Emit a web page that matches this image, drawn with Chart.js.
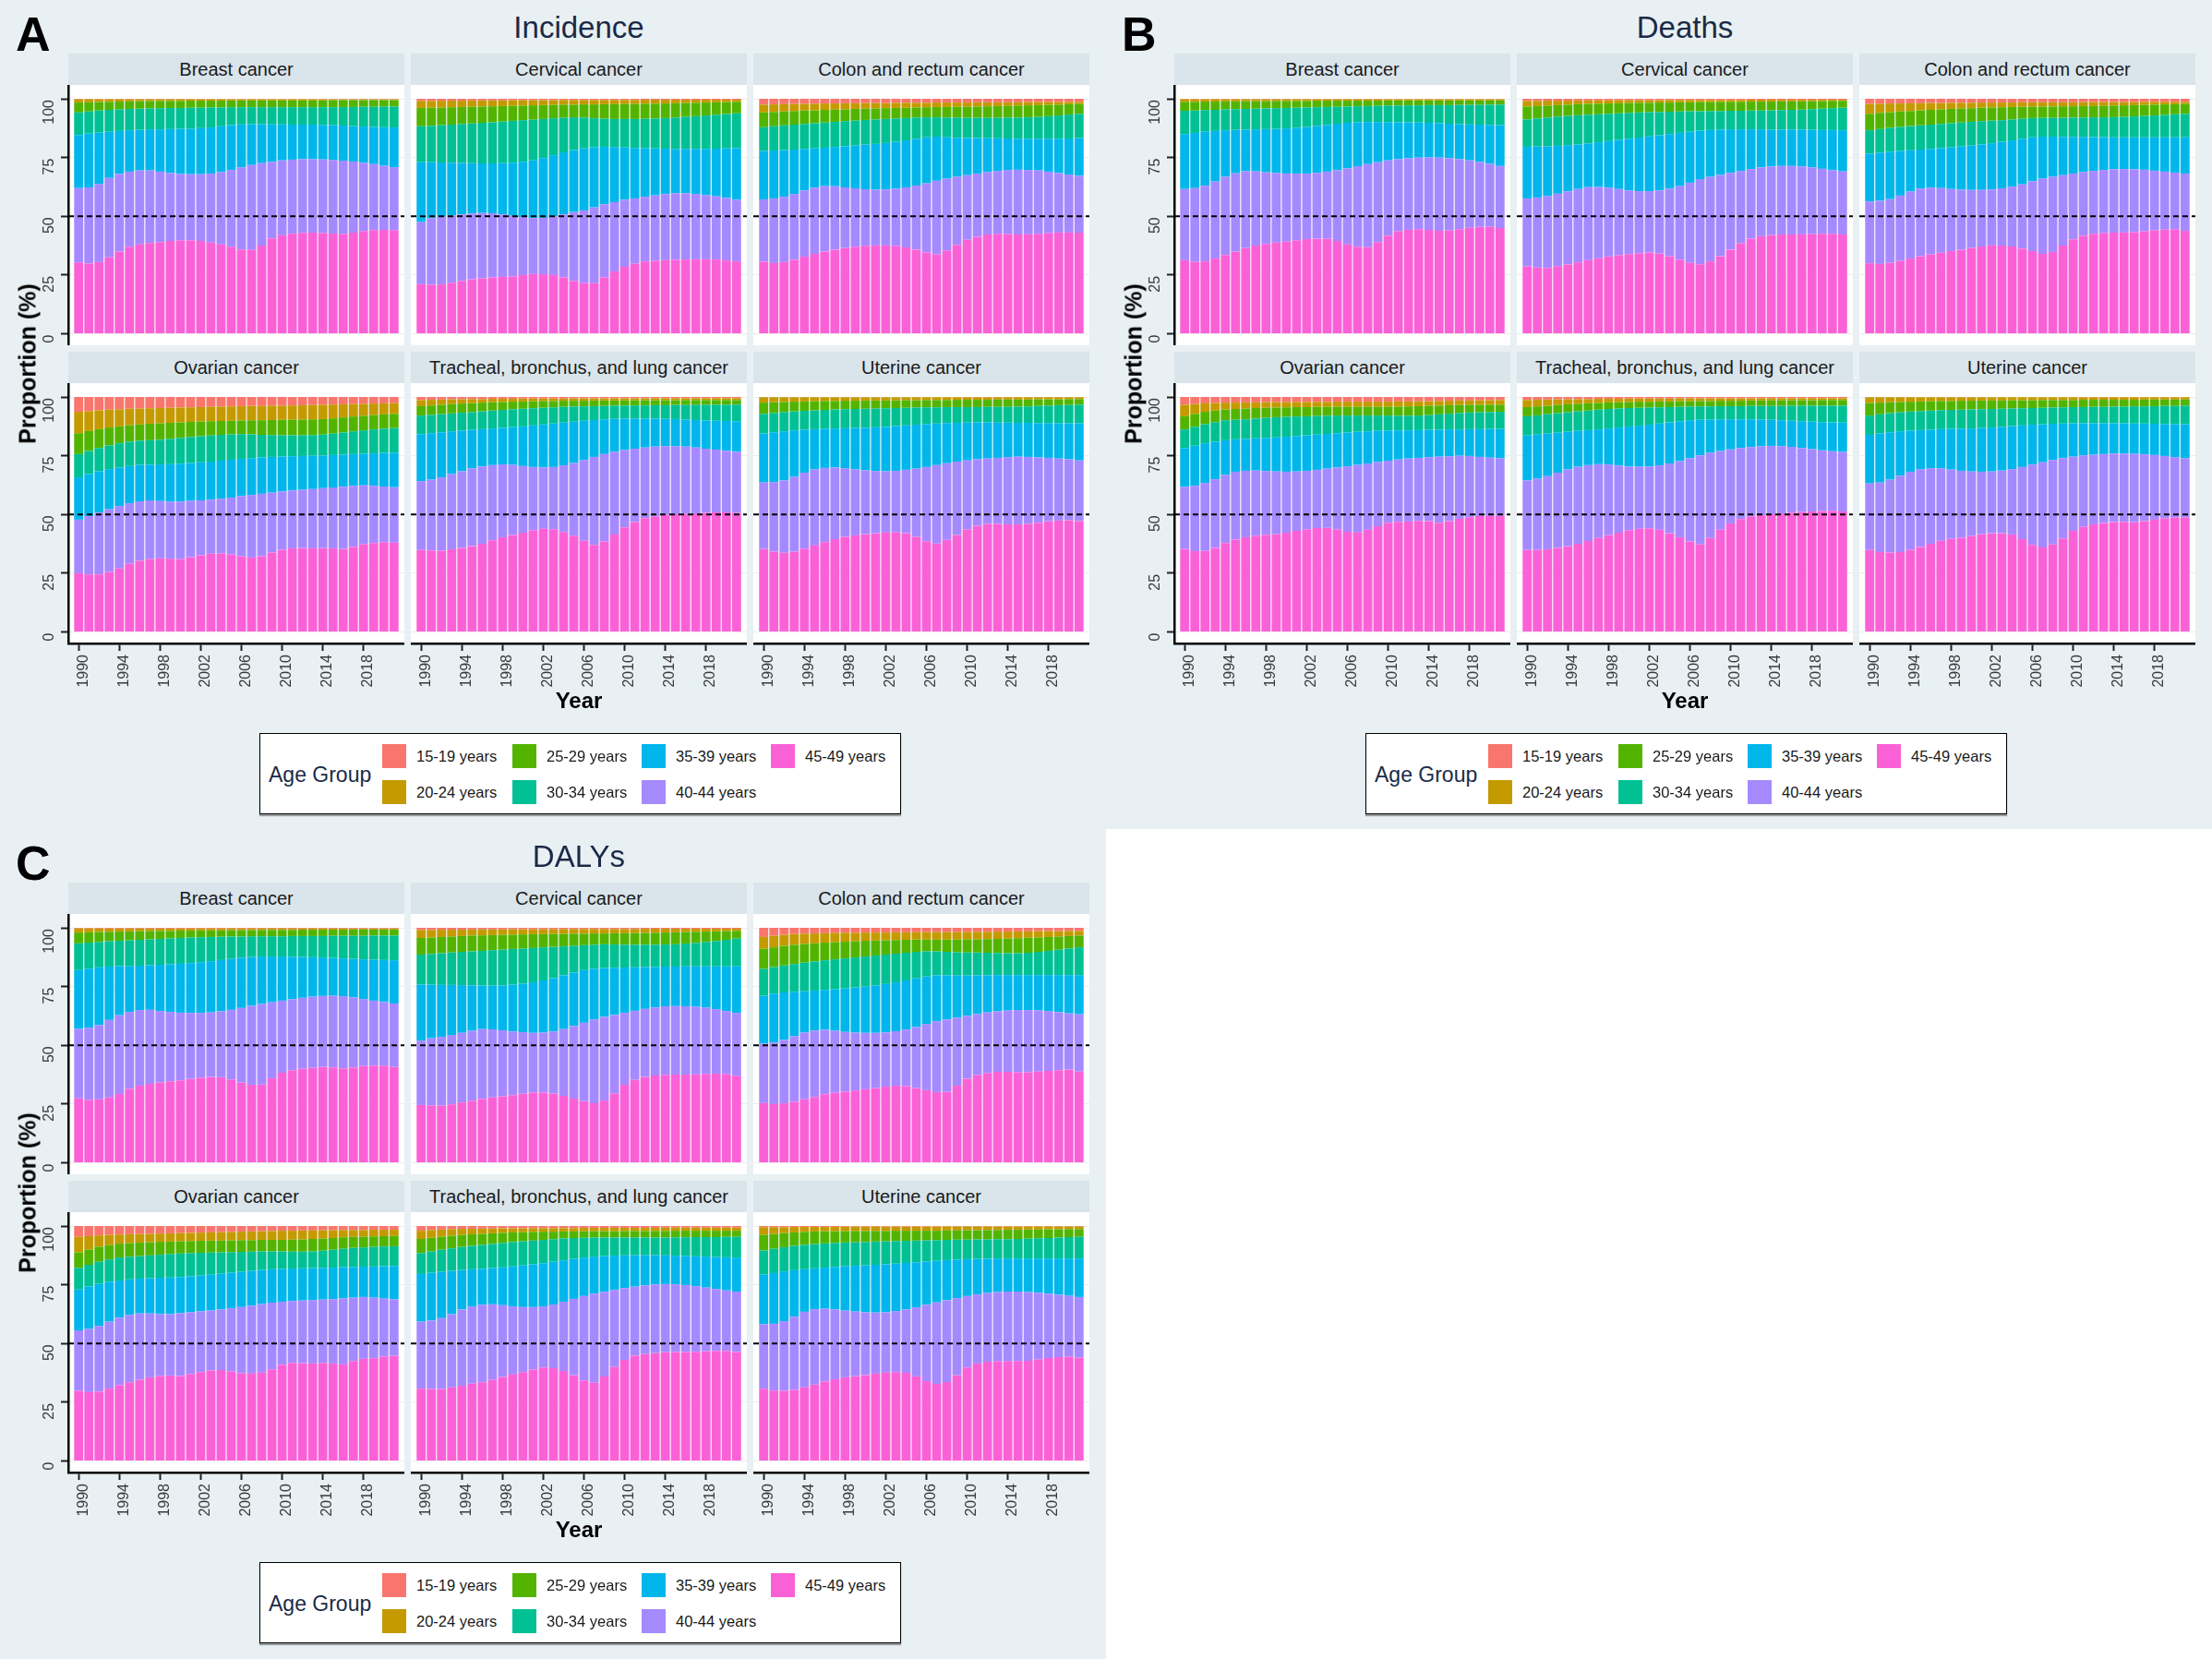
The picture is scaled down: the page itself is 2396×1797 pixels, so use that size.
<!DOCTYPE html>
<html>
<head>
<meta charset="utf-8">
<script src="https://cdn.jsdelivr.net/npm/chart.js@4.4.1/dist/chart.umd.min.js"></script>
<style>
  html, body { margin: 0; padding: 0; background: #e8f0f3; }
  #root { position: relative; width: 2396px; height: 1797px; overflow: hidden; font-family: "Liberation Sans", Arial, sans-serif; }
  .blank { position: absolute; left: 1198px; top: 898px; width: 1198px; height: 899px; background: #fff; }
  .strip { position: absolute; background: #d9e4eb; color: #1a1a1a; font-size: 20px; display: flex; align-items: center; justify-content: center; white-space: nowrap; }
  .title { position: absolute; font-size: 33px; color: #1b2a47; transform: translate(-50%, -50%); white-space: nowrap; }
  .letter { position: absolute; font-size: 52px; line-height: 52px; font-weight: bold; color: #000; }
  .ylab { position: absolute; font-size: 25px; font-weight: bold; color: #000; transform: translate(-50%, -50%) rotate(-90deg); white-space: nowrap; }
  .xlab { position: absolute; font-size: 24px; font-weight: bold; color: #000; transform: translate(-50%, -50%); }
  .legend { position: absolute; background: #fff; border: 1px solid #000; box-shadow: 0 2px 1px rgba(0,0,0,0.35); }
  .legtitle { position: absolute; font-size: 23px; color: #1b2a47; transform: translateY(-50%); white-space: nowrap; }
  .sw { position: absolute; width: 26px; height: 26px; }
  .lab { position: absolute; font-size: 16.5px; color: #1a1a1a; transform: translateY(-50%); white-space: nowrap; }
  canvas { position: absolute; }
</style>
</head>
<body>
<div id="root"><div class="blank"></div></div>
<script>
// categories
const years = [1990,1991,1992,1993,1994,1995,1996,1997,1998,1999,2000,2001,2002,2003,2004,2005,
               2006,2007,2008,2009,2010,2011,2012,2013,2014,2015,2016,2017,2018,2019,2020,2021];
const xTickYears = [1990,1994,1998,2002,2006,2010,2014,2018];
const yTickValues = [0,25,50,75,100];
const refLevel = 50;
const ageGroups = ['15-19 years','20-24 years','25-29 years','30-34 years','35-39 years','40-44 years','45-49 years'];
const ageColors = ['#F8766D','#C49A00','#53B400','#00C094','#00B6EB','#A58AFF','#FB61D7'];
const cancers = ['Breast cancer','Cervical cancer','Colon and rectum cancer','Ovarian cancer','Tracheal, bronchus, and lung cancer','Uterine cancer'];

// each facet: cumulative upper edge (%) of 45-49, 40-44, 35-39, 30-34, 25-29, 20-24 (rest up to 100 is 15-19)
const incidenceBreast = [
  [30.4,29.9,30.5,32.5,35.0,37.0,38.0,38.6, 39.0,39.5,39.8,39.8,39.5,38.8,38.0,37.0, 35.9,35.7,37.5,40.6,41.9,42.5,42.9,43.0, 42.8,42.6,42.4,43.0,43.7,44.1,44.2,44.1],
  [62.0,62.3,63.8,66.3,68.0,69.0,69.5,69.5, 69.0,68.4,68.0,67.9,67.9,68.2,68.8,69.7, 70.8,71.8,72.6,73.2,73.8,74.1,74.3,74.3, 74.2,74.0,73.7,73.3,72.8,72.2,71.5,70.9],
  [84.6,85.2,85.6,86.0,86.3,86.6,86.8,87.0, 87.0,87.1,87.2,87.3,87.5,87.8,88.3,88.8, 89.1,89.2,89.2,89.1,89.1,89.0,89.0,89.0, 88.9,88.8,88.6,88.4,88.2,88.0,87.9,87.8],
  [94.2,94.6,95.0,95.3,95.5,95.7,95.8,95.9, 96.0,96.1,96.1,96.2,96.2,96.3,96.3,96.4, 96.4,96.4,96.4,96.4,96.4,96.4,96.4,96.4, 96.4,96.4,96.5,96.5,96.6,96.6,96.7,96.7],
  [98.4,98.5,98.6,98.7,98.8,98.9,99.0,99.0, 99.1,99.1,99.1,99.2,99.2,99.2,99.2,99.3, 99.3,99.3,99.3,99.3,99.3,99.3,99.3,99.3, 99.3,99.4,99.4,99.4,99.4,99.4,99.4,99.4],
  [99.8,99.8,99.8,99.8,99.8,99.8,99.8,99.8, 99.8,99.8,99.8,99.8,99.8,99.8,99.8,99.8, 99.8,99.8,99.8,99.8,99.8,99.8,99.8,99.8, 99.8,99.8,99.8,99.8,99.8,99.8,99.8,99.8]
];
const incidenceCervical = [
  [21.1,20.9,21.0,21.7,22.5,23.2,23.6,24.0, 24.2,24.4,25.0,25.4,25.3,25.0,24.0,22.5, 21.6,21.5,24.0,26.5,28.5,29.8,30.8,31.1, 31.3,31.5,31.6,31.7,31.7,31.6,31.2,30.8],
  [47.5,49.2,49.8,50.3,50.8,51.2,51.4,51.3, 50.8,50.2,49.7,49.2,49.3,50.0,50.8,51.8, 52.5,53.8,55.1,56.0,57.0,57.6,58.3,58.9, 59.4,59.8,59.8,59.5,59.0,58.5,57.8,57.0],
  [73.0,73.0,72.9,72.8,72.7,72.6,72.5,72.5, 72.6,72.8,73.2,73.8,74.8,76.0,77.2,78.2, 78.9,79.4,79.6,79.5,79.3,79.1,79.0,78.9, 78.8,78.7,78.7,78.7,78.7,78.8,78.9,79.0],
  [88.3,88.5,88.8,89.0,89.3,89.5,89.8,90.0, 90.3,90.6,90.9,91.1,91.4,91.7,91.9,92.1, 92.0,91.7,91.5,91.4,91.4,91.4,91.5,91.6, 91.8,92.0,92.3,92.6,92.9,93.2,93.5,93.8],
  [96.1,96.2,96.3,96.4,96.5,96.6,96.7,96.8, 96.9,97.0,97.1,97.2,97.3,97.4,97.5,97.5, 97.6,97.6,97.7,97.7,97.8,97.8,97.9,97.9, 98.0,98.1,98.2,98.3,98.4,98.5,98.6,98.7],
  [99.1,99.1,99.2,99.2,99.2,99.3,99.3,99.3, 99.3,99.4,99.4,99.4,99.4,99.4,99.5,99.5, 99.5,99.5,99.5,99.5,99.5,99.5,99.6,99.6, 99.6,99.6,99.6,99.6,99.6,99.6,99.6,99.6]
];
const incidenceColon = [
  [30.7,30.1,30.5,31.5,32.8,34.0,35.0,35.8, 36.5,37.0,37.4,37.6,37.6,37.3,36.7,35.8, 34.6,33.8,35.5,37.8,40.0,41.3,42.2,42.5, 42.4,42.2,42.3,42.5,42.8,43.1,43.1,43.0],
  [57.2,57.6,58.3,59.5,61.0,62.2,62.8,62.8, 62.3,61.9,61.5,61.3,61.4,61.7,62.3,63.1, 64.0,65.1,66.0,66.8,67.5,68.2,68.8,69.3, 69.7,69.8,69.7,69.5,69.0,68.4,67.8,67.2],
  [77.8,78.0,78.2,78.4,78.7,78.9,79.2,79.5, 79.8,80.1,80.5,80.8,81.2,81.7,82.3,83.0, 83.6,83.9,83.6,83.4,83.3,83.3,83.2,83.2, 83.1,83.0,83.0,83.0,83.0,83.0,83.1,83.3],
  [87.9,88.3,88.7,89.0,89.3,89.6,89.9,90.2, 90.5,90.7,91.0,91.2,91.4,91.6,91.8,92.0, 92.1,92.1,92.0,92.0,91.9,91.9,91.9,91.9, 92.0,92.0,92.1,92.3,92.6,92.9,93.3,93.6],
  [94.2,94.4,94.6,94.8,95.0,95.1,95.3,95.4, 95.5,95.7,95.8,95.9,96.0,96.1,96.2,96.3, 96.4,96.5,96.5,96.6,96.6,96.7,96.8,96.9, 97.0,97.1,97.2,97.3,97.4,97.5,97.7,97.8],
  [97.5,97.6,97.7,97.8,97.8,97.9,98.0,98.0, 98.1,98.1,98.2,98.2,98.2,98.3,98.3,98.3, 98.3,98.4,98.4,98.4,98.4,98.5,98.5,98.5, 98.5,98.5,98.6,98.6,98.6,98.6,98.7,98.7]
];
const incidenceOvarian = [
  [25.0,24.5,24.5,25.5,27.0,29.0,30.3,31.0, 31.3,31.2,31.0,31.8,32.6,33.3,33.4,33.0, 32.2,31.7,32.2,33.8,35.0,35.6,35.7,35.6, 35.7,35.6,35.3,36.3,37.3,37.8,38.2,38.0],
  [47.8,49.3,50.8,52.2,53.6,54.8,55.6,56.0, 55.7,55.4,55.5,55.8,56.0,56.3,56.7,57.2, 57.8,58.3,58.8,59.3,59.8,60.2,60.5,60.8, 61.2,61.5,61.8,62.2,62.4,62.2,61.9,61.6],
  [65.8,67.2,68.4,69.3,70.0,70.6,71.1,71.2, 71.3,71.4,71.6,71.9,72.2,72.5,72.9,73.3, 73.7,74.0,74.3,74.5,74.7,74.8,74.9,75.0, 75.1,75.3,75.5,75.7,75.9,76.0,76.2,76.3],
  [75.7,77.0,78.3,79.4,80.3,81.0,81.4,81.6, 81.8,82.2,82.6,83.0,83.3,83.6,83.9,84.1, 84.2,84.1,83.9,83.8,83.7,83.7,83.7,83.8, 84.0,84.4,84.9,85.4,85.8,86.2,86.5,86.8],
  [84.6,85.5,86.3,87.0,87.5,88.0,88.3,88.6, 88.8,89.0,89.2,89.4,89.6,89.7,89.8,89.9, 90.0,90.1,90.1,90.2,90.3,90.3,90.4,90.5, 90.6,90.9,91.3,91.7,92.0,92.3,92.6,92.8],
  [93.7,94.0,94.3,94.6,94.8,95.0,95.1,95.2, 95.3,95.4,95.5,95.6,95.7,95.8,95.9,96.0, 96.1,96.2,96.2,96.3,96.3,96.4,96.5,96.6, 96.7,96.8,96.9,97.0,97.1,97.2,97.3,97.4]
];
const incidenceLung = [
  [34.9,34.7,34.6,35.2,35.8,36.6,37.5,39.0, 40.3,41.3,42.2,43.2,43.9,43.7,42.5,41.0, 38.8,37.0,38.5,41.5,44.5,46.8,48.4,49.2, 49.9,50.1,50.3,50.5,50.7,50.9,50.9,50.7],
  [64.2,64.8,65.8,67.2,68.4,69.6,70.4,71.0, 71.3,71.1,70.6,70.2,70.0,70.2,70.9,71.9, 73.2,74.5,75.7,76.6,77.4,78.0,78.5,78.9, 79.1,79.1,78.9,78.5,78.0,77.6,77.1,76.7],
  [84.2,84.6,85.0,85.4,85.7,86.0,86.3,86.6, 86.9,87.2,87.5,87.9,88.3,88.7,89.1,89.5, 89.9,90.2,90.5,90.7,90.8,90.8,90.8,90.8, 90.7,90.6,90.4,90.2,90.0,89.9,89.8,89.7],
  [92.1,92.4,92.7,93.0,93.3,93.6,93.9,94.2, 94.5,94.8,95.0,95.2,95.4,95.6,95.8,95.9, 96.0,96.1,96.2,96.3,96.3,96.4,96.4,96.5, 96.5,96.6,96.6,96.6,96.7,96.7,96.7,96.7],
  [96.1,96.4,96.7,97.0,97.2,97.4,97.6,97.8, 97.9,98.0,98.1,98.2,98.3,98.3,98.4,98.4, 98.4,98.5,98.5,98.5,98.5,98.6,98.6,98.6, 98.6,98.6,98.7,98.7,98.7,98.7,98.7,98.7],
  [98.7,98.8,98.9,99.0,99.0,99.1,99.1,99.2, 99.2,99.2,99.3,99.3,99.3,99.3,99.3,99.4, 99.4,99.4,99.4,99.4,99.4,99.4,99.4,99.5, 99.5,99.5,99.5,99.5,99.5,99.5,99.5,99.5]
];
const incidenceUterine = [
  [35.3,34.2,33.7,34.2,35.5,36.8,38.2,39.5, 40.5,41.1,41.6,42.0,42.3,42.4,42.0,40.5, 38.6,37.6,39.2,41.3,43.6,45.2,46.0,46.0, 45.8,45.8,46.0,46.5,47.1,47.4,47.6,47.2],
  [63.6,63.8,64.5,66.0,67.8,69.2,69.8,70.0, 69.7,69.2,68.8,68.5,68.4,68.6,69.0,69.5, 70.2,71.0,71.8,72.5,73.0,73.5,73.8,74.1, 74.4,74.6,74.5,74.3,74.1,73.8,73.5,73.0],
  [84.5,85.0,85.4,85.8,86.1,86.3,86.5,86.6, 86.7,86.8,86.9,87.1,87.3,87.6,87.9,88.2, 88.5,88.7,88.9,89.0,89.1,89.2,89.2,89.1, 89.1,89.0,89.0,88.9,88.9,88.8,88.8,88.8],
  [92.8,93.2,93.6,93.9,94.1,94.3,94.5,94.7, 94.8,94.9,95.0,95.1,95.2,95.3,95.4,95.5, 95.6,95.6,95.7,95.7,95.7,95.7,95.8,95.8, 95.8,95.9,96.0,96.2,96.3,96.5,96.6,96.7],
  [97.6,97.8,97.9,98.0,98.1,98.2,98.3,98.3, 98.4,98.4,98.5,98.5,98.5,98.6,98.6,98.6, 98.7,98.7,98.7,98.8,98.8,98.8,98.8,98.9, 98.9,98.9,98.9,99.0,99.0,99.0,99.1,99.1],
  [99.9,99.9,99.9,99.9,99.9,99.9,99.9,99.9, 99.9,99.9,99.9,99.9,99.9,99.9,99.9,99.9, 99.9,99.9,99.9,99.9,99.9,99.9,99.9,99.9, 99.9,99.9,99.9,99.9,99.9,99.9,99.9,99.9]
];

const deathsBreast = [
  [31.3,30.6,30.8,32.0,33.5,35.0,36.5,37.5, 38.2,38.8,39.2,39.8,40.3,40.5,40.4,39.5, 38.0,37.0,36.8,39.0,41.8,43.6,44.2,44.5, 44.2,43.8,44.0,44.5,45.1,45.5,45.5,45.0],
  [61.6,62.0,63.0,64.8,66.8,68.3,69.2,69.1, 68.7,68.4,68.2,68.2,68.2,68.5,69.0,69.6, 70.4,71.3,72.2,73.0,73.8,74.3,74.7,75.0, 75.1,75.0,74.7,74.3,73.8,73.1,72.3,71.4],
  [85.0,85.5,86.0,86.3,86.6,86.8,86.9,87.0, 87.1,87.2,87.4,87.7,88.0,88.4,88.9,89.4, 89.8,90.0,90.1,90.1,90.1,90.0,90.0,89.9, 89.8,89.6,89.4,89.2,89.1,89.0,88.9,88.8],
  [94.9,95.0,95.2,95.3,95.5,95.6,95.7,95.8, 95.9,96.0,96.1,96.2,96.3,96.4,96.5,96.6, 96.7,96.8,96.9,97.0,97.1,97.1,97.2,97.2, 97.3,97.3,97.3,97.4,97.4,97.4,97.5,97.5],
  [98.7,98.7,98.8,98.8,98.9,98.9,99.0,99.0, 99.0,99.1,99.1,99.1,99.1,99.2,99.2,99.2, 99.2,99.2,99.2,99.2,99.3,99.3,99.3,99.3, 99.3,99.3,99.3,99.3,99.3,99.3,99.3,99.3],
  [99.8,99.8,99.8,99.8,99.8,99.8,99.8,99.8, 99.8,99.8,99.8,99.8,99.8,99.8,99.8,99.8, 99.8,99.8,99.8,99.8,99.8,99.8,99.8,99.8, 99.8,99.8,99.8,99.8,99.8,99.8,99.8,99.8]
];
const deathsCervical = [
  [28.7,28.2,28.0,28.8,29.5,30.4,31.3,32.1, 32.9,33.4,33.9,34.3,34.6,34.2,33.0,31.5, 30.2,29.6,30.8,33.0,35.8,38.5,40.5,41.5, 42.0,42.2,42.2,42.3,42.4,42.5,42.5,42.2],
  [57.6,58.0,58.6,59.6,60.6,61.6,62.4,62.5, 62.2,61.6,61.0,60.7,60.7,61.0,61.7,62.8, 64.3,65.8,66.8,67.6,68.5,69.3,70.1,70.8, 71.2,71.4,71.4,71.2,70.8,70.2,69.6,69.1],
  [79.6,79.7,79.8,80.0,80.3,80.6,81.0,81.5, 82.0,82.5,83.0,83.5,84.0,84.5,85.0,85.5, 86.0,86.4,86.7,86.9,87.0,87.0,87.0,87.0, 86.9,86.9,86.9,86.8,86.8,86.7,86.7,86.6],
  [91.2,91.6,92.0,92.4,92.7,93.0,93.2,93.4, 93.6,93.8,94.0,94.2,94.3,94.4,94.5,94.6, 94.7,94.7,94.8,94.8,94.9,94.9,95.0,95.0, 95.1,95.2,95.3,95.4,95.6,95.8,96.0,96.2],
  [96.7,96.9,97.1,97.3,97.5,97.7,97.8,97.9, 98.0,98.1,98.2,98.3,98.3,98.4,98.4,98.5, 98.5,98.6,98.6,98.7,98.7,98.7,98.8,98.8, 98.8,98.9,98.9,98.9,99.0,99.0,99.1,99.1],
  [99.1,99.1,99.2,99.2,99.2,99.3,99.3,99.3, 99.3,99.4,99.4,99.4,99.4,99.4,99.5,99.5, 99.5,99.5,99.5,99.5,99.5,99.5,99.6,99.6, 99.6,99.6,99.6,99.6,99.6,99.6,99.6,99.6]
];
const deathsColon = [
  [30.0,29.7,30.2,31.0,32.0,33.0,33.8,34.5, 35.2,35.8,36.5,37.1,37.6,37.5,37.1,36.3, 35.2,34.0,34.8,37.5,40.2,41.8,42.5,42.8, 43.0,43.1,43.2,43.6,44.0,44.3,44.5,43.8],
  [56.3,56.6,57.3,58.8,60.5,61.8,62.2,62.0, 61.6,61.3,61.2,61.2,61.4,61.9,62.6,63.6, 64.9,66.0,66.8,67.5,68.2,68.8,69.3,69.7, 70.0,70.1,70.0,69.8,69.4,69.0,68.6,68.2],
  [76.7,77.1,77.5,77.8,78.1,78.4,78.7,79.0, 79.3,79.7,80.1,80.6,81.1,81.7,82.3,83.0, 83.6,83.9,83.9,83.8,83.8,83.8,83.7,83.7, 83.6,83.6,83.6,83.6,83.6,83.6,83.6,83.6],
  [86.6,87.1,87.6,88.0,88.4,88.7,89.0,89.3, 89.6,89.9,90.2,90.5,90.7,90.9,91.2,91.5, 91.8,91.9,91.9,91.9,92.0,92.0,92.1,92.1, 92.2,92.3,92.5,92.7,92.9,93.1,93.4,93.6],
  [93.6,94.0,94.3,94.6,94.8,95.1,95.3,95.5, 95.7,95.9,96.0,96.2,96.3,96.4,96.5,96.6, 96.6,96.7,96.7,96.8,96.8,96.9,96.9,97.0, 97.1,97.2,97.3,97.4,97.5,97.6,97.7,97.8],
  [97.8,97.9,98.0,98.0,98.1,98.1,98.2,98.2, 98.3,98.3,98.3,98.4,98.4,98.4,98.4,98.5, 98.5,98.5,98.5,98.5,98.5,98.6,98.6,98.6, 98.6,98.6,98.6,98.7,98.7,98.7,98.7,98.7]
];
const deathsOvarian = [
  [35.3,34.4,34.5,35.8,37.8,39.3,40.3,41.0, 41.4,41.6,42.2,43.0,43.6,44.2,44.3,43.6, 42.6,42.3,43.5,45.0,46.5,46.9,47.0,47.3, 47.2,46.5,47.2,48.1,48.8,49.3,49.4,49.4],
  [61.8,62.2,63.4,65.0,66.8,68.2,68.6,68.7, 68.5,68.3,68.2,68.3,68.6,69.0,69.5,70.0, 70.5,71.1,71.7,72.3,72.9,73.4,73.8,74.1, 74.4,74.6,74.8,75.0,74.9,74.5,74.2,73.9],
  [78.3,79.3,80.3,81.0,81.6,82.0,82.2,82.4, 82.6,82.8,83.1,83.4,83.7,84.0,84.3,84.6, 84.9,85.2,85.4,85.6,85.7,85.8,85.8,85.9, 86.0,86.1,86.2,86.2,86.3,86.3,86.4,86.4],
  [86.2,87.3,88.4,89.3,90.1,90.3,90.5,90.8, 91.1,91.4,91.6,91.7,91.8,91.9,92.0,92.1, 92.1,92.1,92.1,92.1,92.1,92.0,92.0,92.1, 92.3,92.6,92.9,93.2,93.4,93.5,93.6,93.7],
  [91.8,92.8,93.7,94.2,94.7,94.9,95.1,95.3, 95.4,95.5,95.6,95.7,95.7,95.8,95.8,95.8, 95.8,95.8,95.8,95.8,95.8,95.9,96.0,96.1, 96.2,96.3,96.5,96.6,96.7,96.7,96.7,96.7],
  [96.7,97.0,97.3,97.5,97.6,97.6,97.7,97.7, 97.8,97.8,97.8,97.9,97.9,97.9,97.9,98.0, 98.0,98.0,98.0,98.0,98.0,98.1,98.1,98.2, 98.2,98.3,98.4,98.5,98.5,98.6,98.6,98.7]
];
const deathsLung = [
  [34.9,34.9,35.2,35.8,36.5,37.5,38.7,40.0, 41.2,42.2,43.2,43.9,44.1,43.5,42.0,40.3, 38.5,37.2,40.0,43.5,46.2,48.0,49.1,49.7, 50.1,50.5,50.8,51.1,51.3,51.5,51.6,51.3],
  [64.5,65.2,66.3,67.8,69.2,70.3,71.0,71.4, 71.3,70.8,70.4,70.3,70.4,70.9,71.7,72.7, 74.0,75.2,76.2,77.0,77.7,78.3,78.7,79.0, 79.2,79.1,78.8,78.3,77.8,77.3,76.9,76.6],
  [83.6,84.0,84.4,84.8,85.2,85.6,85.9,86.2, 86.6,87.0,87.4,87.8,88.2,88.7,89.2,89.7, 90.1,90.3,90.4,90.5,90.5,90.5,90.5,90.4, 90.3,90.1,89.9,89.7,89.5,89.3,89.2,89.1],
  [91.8,92.2,92.7,93.1,93.5,93.9,94.2,94.6, 94.9,95.1,95.3,95.4,95.5,95.6,95.7,95.8, 95.9,96.0,96.0,96.1,96.1,96.1,96.2,96.2, 96.2,96.2,96.3,96.3,96.3,96.3,96.3,96.3],
  [95.7,96.0,96.3,96.6,96.9,97.1,97.3,97.5, 97.7,97.8,97.9,98.0,98.0,98.1,98.1,98.2, 98.2,98.3,98.3,98.4,98.4,98.4,98.5,98.5, 98.5,98.6,98.6,98.6,98.6,98.7,98.7,98.7],
  [98.7,98.8,98.9,99.0,99.0,99.1,99.1,99.2, 99.2,99.2,99.3,99.3,99.3,99.3,99.3,99.4, 99.4,99.4,99.4,99.4,99.4,99.4,99.4,99.5, 99.5,99.5,99.5,99.5,99.5,99.5,99.5,99.5]
];
const deathsUterine = [
  [34.9,34.0,33.8,34.0,35.0,36.2,37.5,38.8, 39.6,40.1,40.8,41.6,42.0,42.0,41.5,39.5, 37.0,36.0,37.2,39.8,43.0,44.7,45.8,46.4, 46.8,46.9,46.7,47.2,47.8,48.3,48.7,48.7],
  [63.2,63.6,64.8,66.5,68.2,69.3,69.7,69.6, 69.1,68.6,68.3,68.2,68.3,68.7,69.3,70.2, 71.2,72.2,73.2,74.0,74.6,75.1,75.4,75.7, 75.9,75.9,75.8,75.6,75.3,74.9,74.4,73.9],
  [83.9,84.5,85.0,85.4,85.7,85.9,86.1,86.3, 86.4,86.5,86.6,86.8,87.0,87.3,87.6,87.9, 88.2,88.4,88.6,88.7,88.8,88.8,88.8,88.8, 88.8,88.8,88.7,88.7,88.6,88.5,88.5,88.4],
  [92.1,92.6,93.1,93.5,93.8,94.0,94.2,94.4, 94.5,94.6,94.7,94.8,94.9,95.0,95.1,95.2, 95.3,95.4,95.5,95.6,95.7,95.7,95.8,95.8, 95.9,95.9,96.0,96.0,96.1,96.2,96.2,96.3],
  [97.4,97.6,97.8,97.9,98.0,98.1,98.2,98.3, 98.3,98.4,98.4,98.5,98.5,98.5,98.6,98.6, 98.6,98.7,98.7,98.7,98.7,98.8,98.8,98.8, 98.8,98.8,98.8,98.9,98.9,98.9,98.9,98.9],
  [99.9,99.9,99.9,99.9,99.9,99.9,99.9,99.9, 99.9,99.9,99.9,99.9,99.9,99.9,99.9,99.9, 99.9,99.9,99.9,99.9,99.9,99.9,99.9,99.9, 99.9,99.9,99.9,99.9,99.9,99.9,99.9,99.9]
];

const dalysBreast = [
  [27.4,26.8,27.0,27.8,29.3,31.5,32.8,33.6, 34.2,34.7,35.1,35.7,36.3,36.6,36.4,35.5, 34.2,33.2,33.3,36.0,38.3,39.4,40.0,40.4, 40.8,40.6,40.2,40.6,41.2,41.4,41.4,40.8],
  [57.0,57.5,58.6,60.8,62.8,64.2,65.0,65.1, 64.6,64.2,63.9,63.8,63.8,64.0,64.5,65.1, 65.9,66.8,67.6,68.3,69.0,69.6,70.2,70.7, 71.0,71.1,70.9,70.4,69.7,69.0,68.4,67.8],
  [82.0,82.6,83.2,83.5,83.7,83.8,83.9,84.1, 84.3,84.5,84.7,85.0,85.4,85.8,86.3,86.8, 87.3,87.6,87.8,87.8,87.8,87.7,87.6,87.5, 87.4,87.2,87.0,86.8,86.6,86.4,86.3,86.2],
  [93.4,93.7,94.0,94.3,94.5,94.7,94.9,95.1, 95.3,95.5,95.7,95.9,96.0,96.1,96.2,96.3, 96.3,96.4,96.4,96.4,96.4,96.5,96.5,96.5, 96.5,96.6,96.6,96.6,96.6,96.7,96.7,96.7],
  [98.0,98.1,98.2,98.3,98.4,98.5,98.6,98.6, 98.7,98.7,98.8,98.8,98.9,98.9,98.9,99.0, 99.0,99.0,99.1,99.1,99.1,99.1,99.2,99.2, 99.2,99.2,99.2,99.3,99.3,99.3,99.3,99.3],
  [99.7,99.7,99.7,99.7,99.7,99.7,99.7,99.7, 99.7,99.7,99.7,99.7,99.7,99.7,99.7,99.7, 99.7,99.7,99.7,99.7,99.7,99.7,99.7,99.7, 99.7,99.7,99.7,99.7,99.7,99.7,99.7,99.7]
];
const dalysCervical = [
  [24.6,24.4,24.3,24.9,25.7,26.4,27.2,27.8, 28.3,28.8,29.4,29.9,29.9,29.5,28.5,27.3, 26.2,25.4,26.5,29.5,33.2,35.3,36.5,37.1, 37.4,37.5,37.5,37.6,37.8,37.9,37.7,37.0],
  [52.0,53.0,53.6,54.4,55.3,56.2,56.9,56.8, 56.4,55.9,55.6,55.3,55.4,55.9,56.9,58.2, 59.6,61.0,62.1,62.9,63.8,64.7,65.5,66.1, 66.6,66.7,66.6,66.4,66.0,65.4,64.6,63.8],
  [75.9,75.8,75.7,75.7,75.6,75.5,75.4,75.4, 75.5,75.8,76.2,76.8,77.6,78.6,79.8,81.0, 82.0,82.6,82.9,83.0,83.1,83.2,83.3,83.4, 83.5,83.5,83.6,83.6,83.6,83.6,83.6,83.6],
  [88.6,88.9,89.2,89.5,89.8,90.0,90.2,90.5, 90.7,91.0,91.2,91.4,91.7,91.9,92.1,92.3, 92.6,92.8,93.0,92.9,92.8,92.8,92.8,92.8, 92.9,93.0,93.3,93.6,94.0,94.4,94.9,95.4],
  [95.7,95.9,96.1,96.3,96.5,96.7,96.8,96.9, 97.0,97.1,97.2,97.3,97.3,97.4,97.4,97.5, 97.5,97.6,97.6,97.7,97.7,97.8,97.8,97.9, 98.0,98.1,98.2,98.3,98.4,98.5,98.6,98.7],
  [99.1,99.1,99.2,99.2,99.2,99.3,99.3,99.3, 99.3,99.4,99.4,99.4,99.4,99.4,99.5,99.5, 99.5,99.5,99.5,99.5,99.5,99.5,99.6,99.6, 99.6,99.6,99.6,99.6,99.6,99.6,99.6,99.6]
];
const dalysColon = [
  [25.4,25.0,25.3,26.0,27.0,28.0,29.2,29.8, 30.3,30.8,31.3,31.8,32.4,32.8,32.6,31.8, 30.9,30.1,30.2,32.8,35.8,37.3,38.2,38.7, 38.7,38.5,38.5,38.8,39.1,39.4,39.7,38.8],
  [50.7,51.2,52.3,53.9,55.4,56.3,56.6,56.2, 55.7,55.4,55.3,55.3,55.5,56.0,56.7,57.8, 59.1,60.2,61.0,61.7,62.5,63.3,64.0,64.5, 64.8,65.0,65.0,64.9,64.6,64.1,63.6,63.2],
  [71.1,72.0,72.5,72.8,73.0,73.3,73.6,73.9, 74.2,74.6,75.0,75.5,76.1,76.8,77.6,78.5, 79.3,79.8,79.8,79.7,79.7,79.8,79.8,79.9, 79.9,79.9,79.9,79.9,79.9,79.9,79.9,79.9],
  [82.5,83.3,84.0,84.6,85.2,85.7,86.2,86.6, 87.0,87.4,87.8,88.2,88.6,89.0,89.4,89.8, 90.0,90.0,89.8,89.6,89.5,89.5,89.4,89.3, 89.2,89.2,89.4,89.8,90.2,90.7,91.2,91.7],
  [91.1,91.7,92.3,92.8,93.1,93.4,93.7,93.9, 94.1,94.3,94.5,94.6,94.7,94.8,94.9,95.0, 95.0,95.0,95.0,95.0,95.1,95.1,95.2,95.3, 95.4,95.6,95.8,95.9,96.1,96.3,96.5,96.7],
  [96.1,96.6,97.0,97.4,97.5,97.6,97.7,97.8, 97.9,97.9,98.0,98.0,98.0,98.1,98.1,98.1, 98.2,98.2,98.2,98.2,98.3,98.3,98.3,98.4, 98.4,98.5,98.5,98.6,98.6,98.6,98.7,98.7]
];
const dalysOvarian = [
  [29.9,29.3,29.5,30.8,32.3,33.5,34.6,35.6, 36.3,36.4,36.2,37.0,37.8,38.5,38.7,38.1, 37.3,37.2,37.6,39.0,41.0,41.8,41.6,41.5, 41.8,41.5,41.1,42.5,43.5,43.7,44.4,44.8],
  [55.6,56.2,57.5,59.3,61.0,62.2,62.8,62.8, 62.5,62.5,62.9,63.3,63.7,64.1,64.5,65.0, 65.5,66.1,66.8,67.4,67.8,68.1,68.3,68.5, 68.7,68.9,69.2,69.5,69.8,69.5,69.1,68.8],
  [73.0,74.3,75.4,76.2,76.8,77.3,77.6,77.8, 78.0,78.1,78.3,78.6,78.9,79.3,79.7,80.1, 80.5,80.9,81.3,81.6,81.8,81.9,82.0,82.1, 82.2,82.3,82.5,82.6,82.7,82.8,82.9,83.0],
  [82.2,83.5,84.8,85.8,86.6,86.9,87.2,87.5, 87.8,88.1,88.3,88.5,88.6,88.7,88.8,88.9, 89.0,89.1,89.2,89.2,89.2,89.1,89.1,89.2, 89.5,89.9,90.3,90.7,90.9,91.1,91.3,91.4],
  [88.8,90.0,91.2,91.9,92.5,92.7,92.9,93.1, 93.3,93.4,93.5,93.6,93.7,93.8,93.8,93.9, 94.0,94.0,94.1,94.1,94.1,94.2,94.3,94.5, 94.7,94.9,95.2,95.4,95.5,95.6,95.7,95.8],
  [95.4,95.7,96.0,96.2,96.4,96.5,96.6,96.7, 96.8,96.9,97.0,97.1,97.2,97.3,97.4,97.5, 97.6,97.7,97.8,97.9,98.0,98.0,98.1,98.1, 98.2,98.2,98.3,98.3,98.3,98.4,98.4,98.4]
];
const dalysLung = [
  [30.8,30.7,30.6,31.3,32.0,32.9,33.5,34.5, 35.8,36.8,37.8,38.9,39.8,39.5,38.3,36.5, 34.3,33.3,36.0,40.0,43.0,44.8,45.5,45.9, 46.3,46.4,46.4,46.5,46.7,46.9,46.9,46.4],
  [59.3,59.8,60.8,62.5,64.5,65.8,66.5,66.7, 66.3,65.8,65.5,65.5,65.8,66.6,67.8,69.0, 70.2,71.2,72.0,72.8,73.6,74.2,74.7,75.1, 75.3,75.2,74.9,74.4,73.8,73.2,72.6,72.1],
  [79.6,80.1,80.5,80.9,81.3,81.6,81.8,82.1, 82.4,82.8,83.2,83.7,84.2,84.8,85.4,86.0, 86.6,87.0,87.3,87.4,87.5,87.6,87.6,87.6, 87.5,87.4,87.3,87.1,87.0,86.8,86.7,86.6],
  [88.5,89.2,89.9,90.5,91.1,91.6,92.0,92.4, 92.8,93.2,93.5,93.8,94.1,94.4,94.7,94.9, 95.0,95.1,95.1,95.1,95.1,95.1,95.1,95.1, 95.1,95.2,95.2,95.3,95.3,95.3,95.4,95.4],
  [94.5,95.0,95.5,95.9,96.2,96.5,96.7,96.9, 97.1,97.3,97.4,97.5,97.6,97.6,97.7,97.7, 97.8,97.8,97.8,97.8,97.9,97.9,97.9,97.9, 97.9,98.0,98.0,98.0,98.0,98.0,98.0,98.0],
  [98.0,98.3,98.5,98.7,98.8,98.8,98.9,98.9, 99.0,99.0,99.0,99.1,99.1,99.1,99.1,99.1, 99.2,99.2,99.2,99.2,99.2,99.2,99.2,99.2, 99.3,99.3,99.3,99.3,99.3,99.3,99.3,99.3]
];
const dalysUterine = [
  [30.8,30.0,29.9,30.3,31.3,32.5,33.8,34.8, 35.6,36.1,36.6,37.2,37.6,37.8,37.5,36.0, 34.0,32.8,33.6,36.5,39.8,41.5,42.2,42.4, 42.4,42.5,42.6,43.2,43.8,44.2,44.4,44.0],
  [58.2,58.4,59.5,61.4,63.5,64.6,64.8,64.5, 64.0,63.6,63.3,63.2,63.3,63.8,64.5,65.4, 66.5,67.5,68.4,69.3,70.2,70.9,71.5,71.9, 72.1,72.1,71.9,71.6,71.2,70.8,70.3,69.8],
  [79.3,80.0,80.7,81.2,81.6,82.0,82.3,82.6, 82.9,83.1,83.3,83.5,83.7,84.0,84.3,84.6, 84.9,85.2,85.5,85.7,85.9,86.0,86.1,86.2, 86.2,86.2,86.2,86.2,86.2,86.2,86.2,86.2],
  [89.6,90.3,91.0,91.6,92.0,92.3,92.6,92.8, 93.0,93.1,93.2,93.4,93.5,93.6,93.7,93.8, 93.9,94.0,94.1,94.2,94.2,94.3,94.3,94.4, 94.4,94.5,94.6,94.8,94.9,95.1,95.3,95.4],
  [96.2,96.6,97.0,97.3,97.5,97.7,97.8,97.8, 97.8,97.9,97.9,97.9,97.9,98.0,98.0,98.0, 98.0,98.0,98.1,98.1,98.2,98.2,98.3,98.3, 98.4,98.4,98.5,98.5,98.6,98.6,98.7,98.7],
  [99.5,99.5,99.5,99.6,99.6,99.6,99.6,99.6, 99.7,99.7,99.7,99.7,99.7,99.7,99.7,99.7, 99.7,99.7,99.8,99.8,99.8,99.8,99.8,99.8, 99.8,99.8,99.8,99.8,99.8,99.8,99.8,99.8]
];

const measures = [
  { letter: 'A', title: 'Incidence', ox: 0, oy: 0,
    facets: [incidenceBreast, incidenceCervical, incidenceColon, incidenceOvarian, incidenceLung, incidenceUterine] },
  { letter: 'B', title: 'Deaths', ox: 1198, oy: 0,
    facets: [deathsBreast, deathsCervical, deathsColon, deathsOvarian, deathsLung, deathsUterine] },
  { letter: 'C', title: 'DALYs', ox: 0, oy: 898,
    facets: [dalysBreast, dalysCervical, dalysColon, dalysOvarian, dalysLung, dalysUterine] }
];

const FONT = '"Liberation Sans", Arial, sans-serif';
Chart.defaults.font.family = FONT;

const colLeft = [74, 445, 816];
const rowTop = [92, 415];
const panelW = 364, panelH = 282, stripH = 34;
const yAxisW = 45, xAxisH = 55;

const panelBg = {
  id: 'panelBg',
  beforeDraw(chart) {
    const { ctx, chartArea: a } = chart;
    ctx.save();
    ctx.fillStyle = '#ffffff';
    ctx.fillRect(a.left, a.top, a.right - a.left, a.bottom - a.top);
    ctx.restore();
  }
};
const refLine = {
  id: 'refLine',
  afterDatasetsDraw(chart) {
    const { ctx, chartArea: a, scales: { y } } = chart;
    const py = y.getPixelForValue(refLevel);
    ctx.save();
    ctx.strokeStyle = '#000';
    ctx.lineWidth = 2;
    ctx.setLineDash([6, 4]);
    ctx.beginPath();
    ctx.moveTo(a.left, py);
    ctx.lineTo(a.right, py);
    ctx.stroke();
    ctx.restore();
  }
};
const yLabels = {
  id: 'yLabels',
  afterDraw(chart, args, opts) {
    if (!opts.show) return;
    const { ctx, chartArea: a, scales: { y } } = chart;
    ctx.save();
    ctx.font = '16px ' + FONT;
    ctx.fillStyle = '#3a3a3a';
    ctx.textAlign = 'right';
    ctx.textBaseline = 'middle';
    yTickValues.forEach(v => {
      ctx.save();
      ctx.translate(a.left - 20, y.getPixelForValue(v));
      ctx.rotate(-Math.PI / 2);
      ctx.fillText(String(v), -1, 0);
      ctx.restore();
    });
    ctx.restore();
  }
};

function div(cls, style, text) {
  const d = document.createElement('div');
  d.className = cls;
  Object.assign(d.style, style);
  if (text !== undefined) d.textContent = text;
  document.getElementById('root').appendChild(d);
  return d;
}

function buildDatasets(cum) {
  // stack from the oldest group (bottom) up to 15-19 (top)
  const out = [];
  for (let s = 0; s < 7; s++) {
    const a = 6 - s;
    const data = years.map((yr, i) => {
      const lo = s === 0 ? 0 : cum[s - 1][i];
      const hi = s === 6 ? 100 : cum[s][i];
      return { x: yr, y: +(hi - lo).toFixed(2) };
    });
    out.push({ label: ageGroups[a], data, backgroundColor: ageColors[a], borderWidth: 0,
               barPercentage: 0.9, categoryPercentage: 1 });
  }
  return out;
}

function drawFacet(m, idx) {
  const c = idx % 3, r = Math.floor(idx / 3);
  const isLeft = c === 0, isBottom = r === 1;
  const pl = m.ox + colLeft[c], pt = m.oy + rowTop[r];

  div('strip', { left: pl + 'px', top: (pt - stripH) + 'px', width: panelW + 'px', height: stripH + 'px' }, cancers[idx]);

  const cv = document.createElement('canvas');
  const w = panelW + (isLeft ? yAxisW : 0), h = panelH + (isBottom ? xAxisH : 0);
  cv.width = w; cv.height = h;
  cv.style.left = (pl - (isLeft ? yAxisW : 0)) + 'px';
  cv.style.top = pt + 'px';
  cv.style.width = w + 'px'; cv.style.height = h + 'px';
  document.getElementById('root').appendChild(cv);

  new Chart(cv, {
    type: 'bar',
    data: { datasets: buildDatasets(m.facets[idx]) },
    options: {
      responsive: false, animation: false, events: [],
      layout: { padding: 0 },
      plugins: { legend: { display: false }, tooltip: { enabled: false }, yLabels: { show: isLeft } },
      scales: {
        x: {
          type: 'linear', min: 1988.98, max: 2022.02, offset: false, stacked: true,
          afterBuildTicks: s => { s.ticks = xTickYears.map(v => ({ value: v })); },
          afterFit: s => { s.height = isBottom ? xAxisH : 0; },
          grid: { offset: false, drawOnChartArea: false, drawTicks: isBottom, tickLength: 8, tickColor: '#222', tickWidth: 2, color: 'rgba(0,0,0,0)' },
          border: { display: isBottom, color: '#000', width: 2.5 },
          ticks: { display: isBottom, minRotation: 90, maxRotation: 90, autoSkip: false, padding: 4, labelOffset: 5,
                   font: { size: 16 }, color: '#3a3a3a', callback: v => String(v) }
        },
        y: {
          min: -4.9, max: 105.9, stacked: true,
          afterBuildTicks: s => { s.ticks = yTickValues.map(v => ({ value: v })); },
          afterFit: s => { s.width = isLeft ? yAxisW : 0; },
          grid: { color: '#ededed', drawTicks: isLeft, tickLength: 8, tickColor: '#222', tickWidth: 2 },
          border: { display: isLeft, color: '#000', width: 2.5 },
          ticks: { display: false }
        }
      }
    },
    plugins: [panelBg, refLine, yLabels]
  });
}

const legendCols = [414, 555, 695, 835];
const legendRows = [806, 845];

measures.forEach(m => {
  div('letter', { left: (m.ox + 17) + 'px', top: (m.oy + 11) + 'px' }, m.letter);
  div('title', { left: (m.ox + 627) + 'px', top: (m.oy + 30) + 'px' }, m.title);
  m.facets.forEach((f, i) => drawFacet(m, i));
  div('ylab', { left: (m.ox + 30) + 'px', top: (m.oy + 394) + 'px' }, 'Proportion (%)');
  div('xlab', { left: (m.ox + 627) + 'px', top: (m.oy + 759) + 'px' }, 'Year');

  div('legend', { left: (m.ox + 281) + 'px', top: (m.oy + 794) + 'px', width: '693px', height: '86px' });
  div('legtitle', { left: (m.ox + 291) + 'px', top: (m.oy + 839) + 'px' }, 'Age Group');
  ageGroups.forEach((g, i) => {
    const x = m.ox + legendCols[Math.floor(i / 2)], y = m.oy + legendRows[i % 2];
    div('sw', { left: x + 'px', top: y + 'px', background: ageColors[i] });
    div('lab', { left: (x + 37) + 'px', top: (y + 13) + 'px' }, g);
  });
});
</script>
</body>
</html>
